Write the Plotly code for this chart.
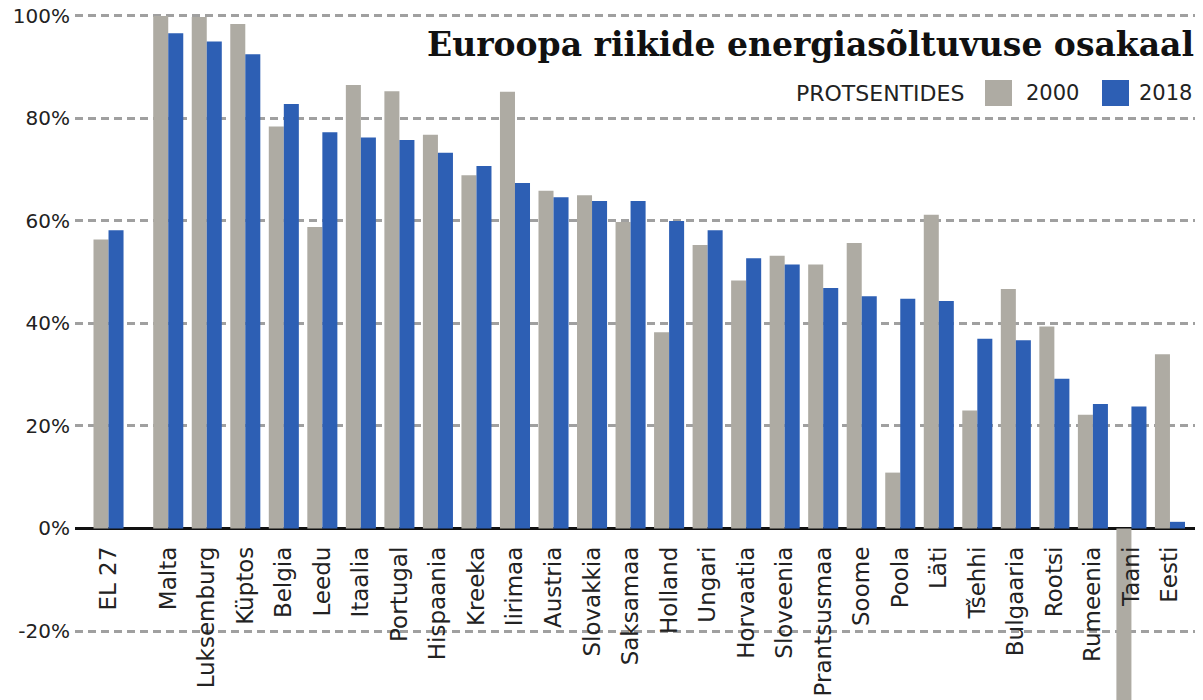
import plotly.graph_objects as go

# Energy import dependency by country, percent
countries = ["EL 27", "Malta", "Luksemburg", "Küptos", "Belgia", "Leedu", "Itaalia",
             "Portugal", "Hispaania", "Kreeka", "Iirimaa", "Austria", "Slovakkia",
             "Saksamaa", "Holland", "Ungari", "Horvaatia", "Sloveenia", "Prantsusmaa",
             "Soome", "Poola", "Läti", "Tšehhi", "Bulgaaria", "Rootsi", "Rumeenia",
             "Taani", "Eesti"]
values_2000 = [56.4, 100.0, 99.8, 98.4, 78.4, 58.8, 86.5, 85.3, 76.8, 68.9, 85.2, 65.9,
               65.0, 59.8, 38.3, 55.3, 48.4, 53.2, 51.5, 55.7, 10.9, 61.2, 23.0, 46.7,
               39.4, 22.2, -35.0, 34.0]
values_2018 = [58.2, 96.6, 95.0, 92.5, 82.8, 77.3, 76.3, 75.8, 73.3, 70.7, 67.4, 64.6,
               63.9, 63.9, 60.0, 58.2, 52.7, 51.5, 46.9, 45.3, 44.8, 44.4, 37.0, 36.7,
               29.2, 24.3, 23.8, 1.3]
series_names = ["2000", "2018"]
y_ticks = [-20, 0, 20, 40, 60, 80, 100]
y_tick_labels = ["-20%", "0%", "20%", "40%", "60%", "80%", "100%"]

title_text = "Euroopa riikide energiasõltuvuse osakaal"
unit_text = "PROTSENTIDES"

GRAY = "#aeaba3"
BLUE = "#2d5fb4"
TEXT = "#222222"
SANS = "DejaVu Sans"

# EU average sits apart from the member states
eu_gap = 0.55
xpos = [i + (eu_gap if i > 0 else 0) for i in range(len(countries))]

W, H = 1203, 700
ML, MR, MT, MB = 75, 8, 0, 0
y_range = [-33.46, 103.1]
zero_frac = (0 - y_range[0]) / (y_range[1] - y_range[0])

fig = go.Figure()
fig.add_trace(go.Bar(x=xpos, y=values_2000, name=series_names[0],
                     marker=dict(color=GRAY, line=dict(width=0))))
fig.add_trace(go.Bar(x=xpos, y=values_2018, name=series_names[1],
                     marker=dict(color=BLUE, line=dict(width=0))))

fig.update_layout(
    width=W, height=H,
    margin=dict(l=ML, r=MR, t=MT, b=MB),
    paper_bgcolor="white", plot_bgcolor="white",
    barmode="group", bargap=0.22, bargroupgap=0,
    showlegend=False,
    font=dict(family=SANS, color=TEXT),
)

fig.update_xaxes(
    range=[-0.87, 28.2],
    tickmode="array", tickvals=xpos, ticktext=countries,
    tickangle=-90,
    tickfont=dict(family=SANS, size=23, color=TEXT),
    ticks="outside", ticklen=8, tickcolor="rgba(0,0,0,0)",
    showgrid=False, showline=False, zeroline=False,
    anchor="free", position=zero_frac,
)

fig.update_yaxes(
    range=y_range,
    tickmode="array", tickvals=y_ticks, ticktext=y_tick_labels,
    tickfont=dict(family=SANS, size=20, color=TEXT),
    ticks="", ticklabelstandoff=4,
    showgrid=True, gridcolor="#a0a0a0", gridwidth=2.5, griddash="8px,5px",
    zeroline=True, zerolinecolor="#111111", zerolinewidth=3,
    showline=False,
)


def px_x(p):
    return (p - ML) / (W - ML - MR)


def px_y(p):
    return 1 - (p - MT) / (H - MT - MB)


fig.add_annotation(
    text=title_text, xref="paper", yref="paper",
    x=px_x(1196), y=px_y(45), xanchor="right", yanchor="middle",
    showarrow=False,
    font=dict(family="DejaVu Serif", size=33, color="#111111", weight="bold"),
)

fig.add_annotation(
    text=unit_text, xref="paper", yref="paper",
    x=px_x(966), y=px_y(93), xanchor="right", yanchor="middle",
    showarrow=False,
    font=dict(family=SANS, size=22, color=TEXT),
)

legend_items = [(985, 1024, GRAY, series_names[0]), (1102, 1137, BLUE, series_names[1])]
for sx, tx, col, label in legend_items:
    fig.add_shape(type="rect", xref="paper", yref="paper",
                  x0=px_x(sx), x1=px_x(sx + 27), y0=px_y(106), y1=px_y(80),
                  fillcolor=col, line=dict(width=0))
    fig.add_annotation(text=label, xref="paper", yref="paper",
                       x=px_x(tx), y=px_y(93), xanchor="left", yanchor="middle",
                       showarrow=False,
                       font=dict(family=SANS, size=21, color=TEXT))

fig.write_html("out.html")
